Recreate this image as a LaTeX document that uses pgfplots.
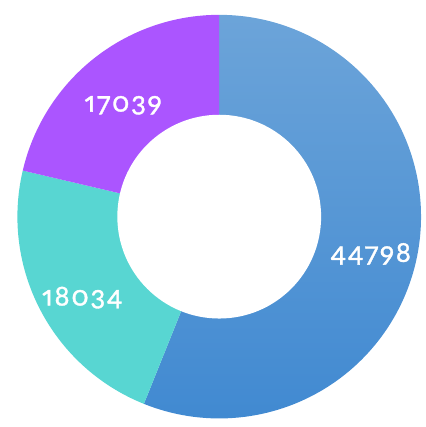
\documentclass[border=0pt]{standalone}
\usepackage{fontspec}
\setmainfont{Lato}
\newfontfamily\labelfont[Numbers={OldStyle,Proportional},LetterSpace=6,FakeBold=1.3]{Lato}
\usepackage{pgfplots}
\usepackage{pgfplotstable}
\pgfplotsset{compat=1.18}
\definecolor{cpurple}{RGB}{171,85,255}
\definecolor{cteal}{RGB}{88,214,210}
\definecolor{cbluetop}{RGB}{108,164,217}
\definecolor{cbluebot}{RGB}{64,137,209}

\pgfplotstableread{
label value
Blue 44798
Teal 18034
Purple 17039
}\donutdata

\begin{document}
\begin{tikzpicture}
\pgfplotstablegetelem{0}{value}\of\donutdata \let\va\pgfplotsretval
\pgfplotstablegetelem{1}{value}\of\donutdata \let\vb\pgfplotsretval
\pgfplotstablegetelem{2}{value}\of\donutdata \let\vc\pgfplotsretval
\pgfkeys{/pgf/fpu=true,/pgf/fpu/output format=fixed}
\pgfmathsetmacro{\tot}{\va+\vb+\vc}
\pgfmathsetmacro{\aA}{90}
\pgfmathsetmacro{\aB}{90-360*\va/\tot}
\pgfmathsetmacro{\aC}{\aB-360*\vb/\tot}
\pgfmathsetmacro{\aD}{\aC-360*\vc/\tot}
\pgfmathsetmacro{\mA}{(\aA+\aB)/2}
\pgfmathsetmacro{\mB}{(\aB+\aC)/2}
\pgfmathsetmacro{\mC}{(\aC+\aD)/2}
\pgfkeys{/pgf/fpu=false}
\begin{axis}[hide axis, scale only axis, x=1bp, y=1bp,
  xmin=0, xmax=427, ymin=0, ymax=425, clip=false]
\path (axis cs:0,0) rectangle (axis cs:427,425);
\path (axis cs:218,206) coordinate (c);
\shade[top color=cbluetop, bottom color=cbluebot] (c) -- ++(\aA:204bp) arc[start angle=\aA, end angle=\aB, radius=204bp] -- cycle;
\fill[cteal] (c) -- ++(\aB:204bp) arc[start angle=\aB, end angle=\aC, radius=204bp] -- cycle;
\fill[cpurple] (c) -- ++(\aC:204bp) arc[start angle=\aC, end angle=\aD, radius=204bp] -- cycle;
\fill[white] (c) circle[radius=103bp];
\tikzset{lbl/.style={text=white, font=\labelfont\fontsize{28}{30}\selectfont}}
\path (c) ++(\mA:156bp) node[lbl, yshift=-8bp] {\va};
\path (c) ++(\mB:156bp) node[lbl, yshift=-10bp] {\vb};
\path (c) ++(\mC:150bp) node[lbl, xshift=-4bp, yshift=-5bp] {\vc};
\end{axis}
\end{tikzpicture}
\end{document}
